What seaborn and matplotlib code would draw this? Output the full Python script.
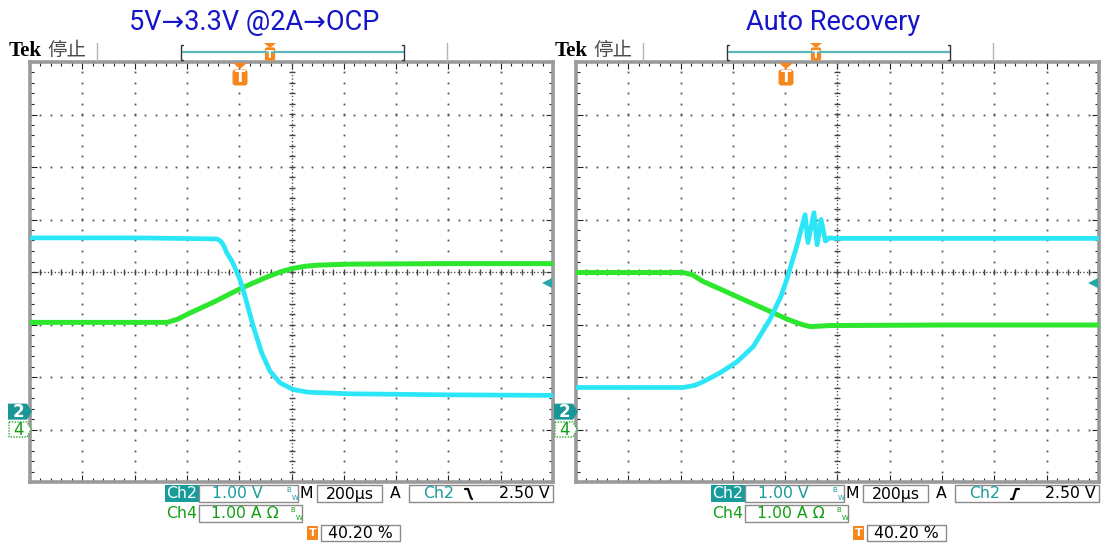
import numpy as np
import pandas as pd
import matplotlib
matplotlib.use("Agg")
import matplotlib.pyplot as plt
import seaborn as sns
from matplotlib.patches import Rectangle, Polygon, FancyBboxPatch
from matplotlib import font_manager

sns.set_theme(style="white")
plt.rcParams['font.family'] = ['DejaVu Sans', 'Noto Sans CJK SC']

# ---------------- data ----------------
titles = ["5V→3.3V @2A→OCP", "Auto Recovery"]

# left capture: Ch2 (output voltage, V) and Ch4 (current, A) vs time (us, trigger = 0)
left_ch2_t = [-804, -400, -90, -75, -62, -52, -30, -14, 0, 18, 50, 82, 114, 152, 203, 260, 420, 800, 1196]
left_ch2_v = [3.31, 3.31, 3.29, 3.25, 3.15, 3.03, 2.85, 2.67, 2.50, 2.20, 1.62, 1.12, 0.77, 0.55, 0.42, 0.37, 0.34, 0.32, 0.31]
left_ch4_t = [-804, -400, -280, -240, -192, -100, -1, 100, 152, 202, 250, 294, 420, 800, 1196]
left_ch4_i = [2.04, 2.04, 2.04, 2.10, 2.22, 2.43, 2.68, 2.90, 3.00, 3.07, 3.11, 3.13, 3.15, 3.16, 3.16]

# right capture
right_ch2_t = [-804, -395, -350, -318, -253, -188, -126, -62, -20, 2, 40, 72, 83, 106, 118, 133, 150, 165, 186, 600, 1196]
right_ch2_v = [0.46, 0.46, 0.50, 0.57, 0.74, 0.95, 1.24, 1.76, 2.20, 2.52, 3.15, 3.75, 3.22, 3.79, 3.18, 3.66, 3.25, 3.31, 3.30, 3.30, 3.30]
right_ch4_t = [-804, -395, -360, -318, -250, -188, -125, -62, 0, 26, 60, 91, 130, 167, 600, 1196]
right_ch4_i = [2.99, 2.99, 2.95, 2.82, 2.67, 2.53, 2.39, 2.25, 2.11, 2.06, 2.00, 1.96, 1.97, 1.98, 1.99, 1.99]

ch2_scale_v = 1.00      # V/div
ch4_scale_a = 1.00      # A/div
ch2_ground_div = -2.66  # ground marker position (divisions from centre)
ch4_ground_div = -3.00
time_per_div = 200      # us/div
trigger_pct = 40.20
trigger_level = 2.50
trigger_edge = ["falling", "rising"]

ch2_label = "1.00 V"
ch4_label = "1.00 A Ω"
time_label = "200μs"
trig_label = "2.50 V"
pos_label = "40.20 %"

CYAN = "#2ae6f6"
GREEN = "#2ee62e"
TEAL = "#1a9a9a"
DGREEN = "#12a012"
ORANGE = "#f7861c"

# ---------------- figure ----------------
W, H = 1108, 547
fig = plt.figure(figsize=(W / 100, H / 100), dpi=100)
fig.patch.set_facecolor("white")

panel_x0 = [30, 576]
panel_w = 523
panel_top, panel_bot = 62, 482
t0 = -trigger_pct / 100 * 10 * time_per_div
t1 = t0 + 10 * time_per_div

datasets = [
    (left_ch2_t, left_ch2_v, left_ch4_t, left_ch4_i),
    (right_ch2_t, right_ch2_v, right_ch4_t, right_ch4_i),
]

for p in range(2):
    x0 = panel_x0[p]
    ax = fig.add_axes([x0 / W, 1 - panel_bot / H, panel_w / W, (panel_bot - panel_top) / H])
    ax.set_facecolor("white")
    ax.set_xlim(t0, t1)
    ax.set_ylim(-4, 4)

    # graticule dots
    ys = np.arange(-4, 4.001, 0.2)
    xs = t0 + np.arange(0, 10.001, 0.2) * time_per_div
    for k in range(1, 10):
        if k == 5:
            continue
        xv = t0 + k * time_per_div
        ax.plot(np.full_like(ys, xv), ys, ls="none", marker="s", ms=1.3, color="#555555", mew=0, zorder=1)
    for yv in range(-3, 4):
        if yv == 0:
            continue
        ax.plot(xs, np.full_like(xs, yv), ls="none", marker="s", ms=1.3, color="#555555", mew=0, zorder=1)
    # centre lines with ticks
    xc = t0 + 5 * time_per_div
    ax.axhline(0, ls=(0, (0.9, 1.6)), lw=1.0, color="#444444", zorder=1)
    ax.axvline(xc, ls=(0, (0.9, 1.6)), lw=1.0, color="#444444", zorder=1)
    ax.plot(xs, np.zeros_like(xs), ls="none", marker="|", ms=4.5, mew=1.0, color="#444444", zorder=1)
    ax.plot(np.full_like(ys, xc), ys, ls="none", marker="_", ms=5, mew=1.0, color="#444444", zorder=1)

    # traces
    c2t, c2v, c4t, c4i = datasets[p]
    df4 = pd.DataFrame({"t": c4t, "y": np.array(c4i) / ch4_scale_a + ch4_ground_div, "ch": "Ch4"})
    df2 = pd.DataFrame({"t": c2t, "y": np.array(c2v) / ch2_scale_v + ch2_ground_div, "ch": "Ch2"})
    sns.lineplot(data=df4, x="t", y="y", color=GREEN, lw=3.6, ax=ax, estimator=None, sort=False, zorder=3)
    sns.lineplot(data=df2, x="t", y="y", color=CYAN, lw=3.4, ax=ax, estimator=None, sort=False, zorder=4)

    # frame ticks
    ax.set_xticks(t0 + np.arange(0, 11) * time_per_div)
    ax.set_xticks(xs, minor=True)
    ax.set_yticks(np.arange(-4, 5))
    ax.set_yticks(ys, minor=True)
    ax.tick_params(which="both", direction="in", top=True, right=True, bottom=True, left=True,
                   labelbottom=False, labelleft=False, color="#222222", width=0.8)
    ax.tick_params(which="major", length=5)
    ax.tick_params(which="minor", length=3)
    ax.set_xlabel("")
    ax.set_ylabel("")
    for s in ax.spines.values():
        s.set_color("#9a9a9a")
        s.set_linewidth(2.6)

# ---------------- overlay (pixel coordinates) ----------------
ov = fig.add_axes([0, 0, 1, 1], zorder=10)
ov.set_xlim(0, W)
ov.set_ylim(H, 0)
ov.axis("off")
ov.patch.set_alpha(0)

names = {f.name for f in font_manager.fontManager.ttflist}
if "Liberation Sans Narrow" in names:
    title_family, title_fs = "Liberation Sans Narrow", 22
elif "Roboto" in names:
    title_family, title_fs = "Roboto", 19.5
else:
    title_family, title_fs = "Liberation Sans", 18.5
title_cx = [254, 833]

fs = 11.3
for p in range(2):
    dx = panel_x0[p] - panel_x0[0]
    ov.text(title_cx[p], 22, titles[p], color="#1414c8", fontsize=title_fs, ha="center", va="center",
            family=[title_family, "DejaVu Sans"])
    ov.text(9 + dx, 51, "Tek", family="Liberation Serif", fontweight="bold", fontsize=15, va="center", color="black")
    ov.text(47 + dx, 50, "停止", family="Noto Sans CJK SC", fontsize=14, va="center", color="#4a4a4a")
    for sx in (97, 447):
        ov.plot([sx + dx, sx + dx], [43, 61], color="#b5b5b5", lw=1)
    # record bracket
    ov.plot([183 + dx, 403 + dx], [52, 52], color="#5cb8b8", lw=1.6)
    ov.plot([183 + dx, 181 + dx, 181 + dx, 183 + dx], [45, 45, 60, 60], color="#333333", lw=1)
    ov.plot([402 + dx, 404 + dx, 404 + dx, 402 + dx], [45, 45, 60, 60], color="#333333", lw=1)
    tx = 270 + dx
    ov.add_patch(Polygon([(tx - 6, 43), (tx + 6, 43), (tx, 48)], closed=True, color=ORANGE, lw=0))
    ov.add_patch(FancyBboxPatch((tx - 4.5, 48), 9, 12, boxstyle="round,pad=0.6,rounding_size=2", color=ORANGE, lw=0))
    ov.text(tx, 54.5, "T", color="white", fontsize=8, fontweight="bold", ha="center", va="center")
    # trigger position marker inside graticule
    tx = 240 + dx
    ov.add_patch(Polygon([(tx - 7, 63), (tx + 7, 63), (tx, 69)], closed=True, color=ORANGE, lw=0))
    ov.add_patch(FancyBboxPatch((tx - 7, 70), 14, 15, boxstyle="round,pad=0.5,rounding_size=3", color=ORANGE, lw=0))
    ov.text(tx, 78, "T", color="white", fontsize=11, fontweight="bold", ha="center", va="center")
    # trigger level marker
    ty = 283
    ov.add_patch(Polygon([(542 + dx, ty), (552 + dx, ty - 5), (552 + dx, ty + 5)], closed=True, color="#22a6a6", lw=0))
    # ground markers
    gy2 = 272 - ch2_ground_div * 52.5
    gy4 = 272 - ch4_ground_div * 52.5
    ov.add_patch(Polygon([(8 + dx, gy2 - 8), (27 + dx, gy2 - 8), (32 + dx, gy2), (27 + dx, gy2 + 8), (8 + dx, gy2 + 8)],
                         closed=True, color="#1a9696", lw=0))
    ov.text(18 + dx, gy2 + 0.5, "2", color="white", fontsize=12, fontweight="bold", ha="center", va="center")
    ov.add_patch(Polygon([(9 + dx, gy4 - 7.5), (27 + dx, gy4 - 7.5), (31 + dx, gy4), (27 + dx, gy4 + 7.5), (9 + dx, gy4 + 7.5)],
                         closed=True, facecolor="white", edgecolor="#2aa82a", lw=1, ls=(0, (1, 1))))
    ov.text(18 + dx, gy4 + 0.5, "4", color=DGREEN, fontsize=12, ha="center", va="center")

    # readouts row 1
    ov.add_patch(Rectangle((165 + dx, 485), 34, 17, color="#179b9b", lw=0))
    ov.text(182 + dx, 494, "Ch2", color="white", fontsize=fs, ha="center", va="center")
    ov.add_patch(Rectangle((199 + dx, 485), 99, 17, facecolor="none", edgecolor="#8a8a8a", lw=1))
    ov.text(237 + dx, 494, ch2_label, color=TEAL, fontsize=fs, ha="center", va="center")
    ov.text(289 + dx, 490, "B", color=TEAL, fontsize=5, ha="center", va="center")
    ov.text(295 + dx, 497.5, "W", color=TEAL, fontsize=5, ha="center", va="center")
    ov.text(306 + dx, 494, "M", color="black", fontsize=fs, ha="center", va="center")
    ov.add_patch(Rectangle((317 + dx, 485), 65, 17, facecolor="none", edgecolor="#8a8a8a", lw=1))
    ov.text(350 + dx, 494, time_label, color="black", fontsize=fs, ha="center", va="center")
    ov.text(395 + dx, 494, "A", color="black", fontsize=fs, ha="center", va="center")
    ov.add_patch(Rectangle((409 + dx, 485), 144, 17, facecolor="none", edgecolor="#8a8a8a", lw=1))
    ov.text(439 + dx, 494, "Ch2", color=TEAL, fontsize=fs, ha="center", va="center")
    ex = 469 + dx
    if trigger_edge[p] == "falling":
        ov.plot([ex - 4, ex - 1, ex + 2, ex + 3], [489, 489, 498, 499], color="black", lw=1.6)
    else:
        ov.plot([ex - 4, ex - 2, ex + 1, ex + 4], [499, 499, 489, 489], color="black", lw=1.6)
    ov.text(550 + dx, 494, trig_label, color="black", fontsize=fs, ha="right", va="center")
    # row 2
    ov.text(182 + dx, 514, "Ch4", color=DGREEN, fontsize=fs, ha="center", va="center")
    ov.add_patch(Rectangle((199 + dx, 505), 103, 17, facecolor="none", edgecolor="#8a8a8a", lw=1))
    ov.text(245 + dx, 514, ch4_label, color=DGREEN, fontsize=fs, ha="center", va="center")
    ov.text(293 + dx, 510, "B", color=DGREEN, fontsize=5, ha="center", va="center")
    ov.text(299 + dx, 517.5, "W", color=DGREEN, fontsize=5, ha="center", va="center")
    # row 3
    ov.add_patch(Rectangle((307 + dx, 526), 11, 14, color=ORANGE, lw=0))
    ov.text(312.5 + dx, 533.5, "T", color="white", fontsize=8, fontweight="bold", ha="center", va="center")
    ov.add_patch(Rectangle((321 + dx, 525), 79, 16, facecolor="none", edgecolor="#8a8a8a", lw=1))
    ov.text(360 + dx, 533.5, pos_label, color="black", fontsize=fs, ha="center", va="center")

fig.savefig("out.png", dpi=100, facecolor="white")
